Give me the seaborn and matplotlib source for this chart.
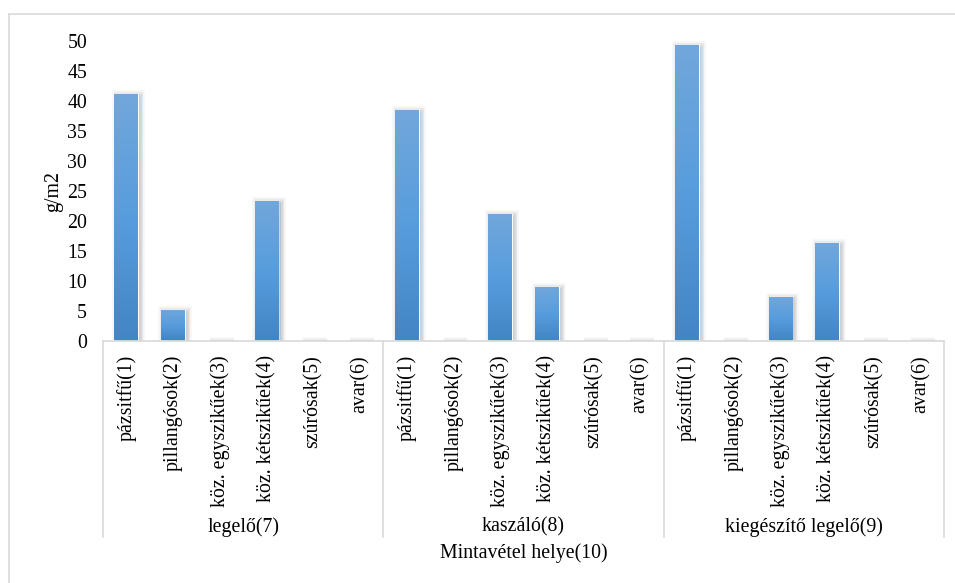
import numpy as np
import pandas as pd
import matplotlib
matplotlib.use("Agg")
import matplotlib.pyplot as plt
import seaborn as sns
from matplotlib.colors import LinearSegmentedColormap
from matplotlib import patheffects as pe
from matplotlib.lines import Line2D
from matplotlib.transforms import blended_transform_factory

# --- data -------------------------------------------------------------
groups = ["legelő(7)", "kaszáló(8)", "kiegészítő legelő(9)"]
categories = ["pázsitfű(1)", "pillangósok(2)", "köz. egyszikűek(3)",
              "köz. kétszikűek(4)", "szúrósak(5)", "avar(6)"]
legelo = [41.1, 5.1, 0.0, 23.3, 0.0, 0.0]
kaszalo = [38.4, 0.0, 21.1, 8.9, 0.0, 0.0]
kiegeszito = [49.3, 0.0, 7.3, 16.3, 0.0, 0.0]
y_ticks = [0, 5, 10, 15, 20, 25, 30, 35, 40, 45, 50]
y_label = "g/m2"
x_title = "Mintavétel helye(10)"

rows = []
for g, vals in zip(groups, [legelo, kaszalo, kiegeszito]):
    for c, v in zip(categories, vals):
        rows.append({"group": g, "category": c, "key": f"{g}|{c}", "value": v})
df = pd.DataFrame(rows)
order = list(df["key"])

# --- style ------------------------------------------------------------
sns.set_style("white")
plt.rcParams["font.family"] = ["Liberation Serif", "DejaVu Serif"]
plt.rcParams["font.size"] = 14.3
plt.rcParams["text.color"] = "black"
plt.rcParams["xtick.color"] = "black"
plt.rcParams["ytick.color"] = "black"

W, H = 955, 583
fig = plt.figure(figsize=(W / 100, H / 100), dpi=100)
ax_left, ax_right = 103, 944
ax_top, ax_bottom = 40.5, 340.5
ax = fig.add_axes([ax_left / W, 1 - ax_bottom / H,
                   (ax_right - ax_left) / W, (ax_bottom - ax_top) / H])

sns.barplot(data=df, x="key", y="value", order=order, color="#5b9bd5",
            saturation=1, width=0.51, errorbar=None, ax=ax)

# vertical gradient fill + soft blurred shadow on each bar
grad_cmap = LinearSegmentedColormap.from_list(
    "bar_grad", ["#4385c5", "#579ddd", "#72a7db"])
grad = np.linspace(0, 1, 256)[:, None]
shadow = [
    pe.Stroke(linewidth=7, foreground="#7f7f7f", alpha=0.06, offset=(1.5, -1)),
    pe.Stroke(linewidth=4.5, foreground="#7f7f7f", alpha=0.10, offset=(1.5, -1)),
    pe.Stroke(linewidth=2.5, foreground="#7f7f7f", alpha=0.14, offset=(1.5, -1)),
    pe.Normal(),
]
for p in ax.patches:
    h = p.get_height()
    p.set_path_effects(shadow)
    if h <= 0:
        p.set_facecolor("none")
        continue
    x0 = p.get_x()
    im = ax.imshow(grad, cmap=grad_cmap, origin="lower", aspect="auto",
                   extent=[x0, x0 + p.get_width(), 0, h], zorder=p.get_zorder() + 0.1,
                   interpolation="bilinear")
    im.set_clip_path(p)

ax.set_xlim(-0.5, len(order) - 0.5)
ax.set_ylim(0, 50)
ax.set_yticks(y_ticks)
ax.set_xticks(range(len(order)))
ax.set_xticklabels(list(df["category"]), rotation=90, va="top", ha="center")
ax.tick_params(axis="x", length=0, pad=10.5)
ax.tick_params(axis="y", length=0, pad=11.5)
ax.set_xlabel("")
ax.set_ylabel("")
ax.grid(False)

for side in ["left", "right", "top"]:
    ax.spines[side].set_visible(False)
ax.spines["bottom"].set_color("#d9d9d9")
ax.spines["bottom"].set_linewidth(1.2)
ax.spines["bottom"].set_zorder(5)

# group separators below the axis
xt = ax.get_xaxis_transform()
sep_bottom = -(537 - ax_bottom) / (ax_bottom - ax_top)
for b in [-0.5, 5.5, 11.5, 17.5]:
    ax.plot([b, b], [0, sep_bottom], transform=xt, clip_on=False,
            color="#d9d9d9", lw=1.2, zorder=0)

# group labels
gt = blended_transform_factory(ax.transData, fig.transFigure)
for i, g in enumerate(groups):
    ax.text(i * 6 + 2.5, 1 - 527 / H, g, transform=gt, ha="center", va="center")

# axis titles
fig.text(54 / W, 1 - 191 / H, y_label, rotation=90, ha="center", va="center")
fig.text((ax_left + ax_right) / 2 / W, 1 - 553 / H, x_title, ha="center", va="center")

# chart area border
bx, by = 8.5 / W, 1 - 13.5 / H
fig.add_artist(Line2D([bx, bx], [0, by], transform=fig.transFigure, color="#d9d9d9", lw=1.2))
fig.add_artist(Line2D([bx, 1], [by, by], transform=fig.transFigure, color="#d9d9d9", lw=1.2))

fig.savefig("out.png", dpi=100)
